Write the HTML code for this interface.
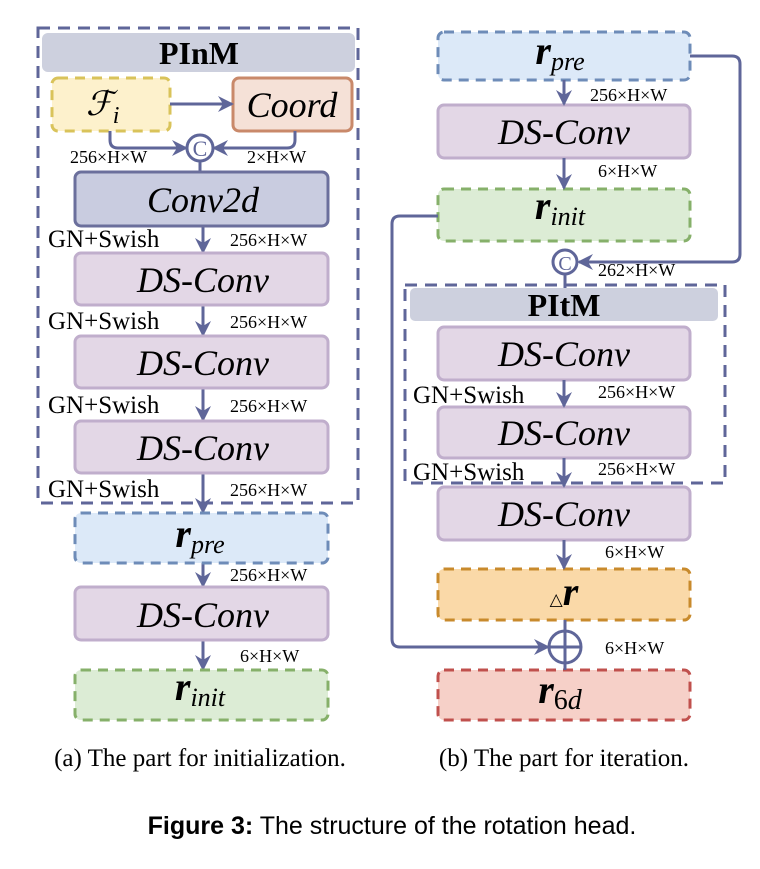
<!DOCTYPE html>
<html><head><meta charset="utf-8"><style>
body{margin:0;background:#fff;width:760px;height:864px;overflow:hidden}
svg text{font-family:"Liberation Serif","DejaVu Serif",serif}
</style></head><body>
<svg width="760" height="864" viewBox="0 0 760 864" xmlns="http://www.w3.org/2000/svg" font-family="Liberation Serif, serif">
<defs>
<marker id="b" markerWidth="16" markerHeight="16" refX="14" refY="8" orient="auto" markerUnits="userSpaceOnUse"><path d="M0,0 L16,8 L0,16 L5,8 z" fill="#5f6699"/></marker>
</defs>
<g stroke="#5f6699" stroke-width="3" fill="none">
<rect x="38" y="28" width="320" height="475" stroke-dasharray="12,8"/>
<rect x="405" y="285" width="320" height="198" stroke-dasharray="12,8"/>
</g>
<rect x="42" y="33" width="313" height="39" rx="6" fill="#cdd0de"/>
<text x="199" y="64" font-size="32" font-weight="bold" text-anchor="middle">PInM</text>
<rect x="410" y="288" width="308" height="33" rx="5" fill="#cdd0de"/>
<text x="564" y="316" font-size="32" font-weight="bold" text-anchor="middle">PItM</text>

<rect x="52" y="78" width="118" height="53" rx="6" fill="#fdf1cc" stroke="#d9c35a" stroke-width="3" stroke-dasharray="10,7"/>
<text x="86" y="115" font-size="34" font-style="italic">ℱ<tspan font-size="24" dy="8">i</tspan></text>
<rect x="233" y="78" width="119" height="53" rx="6" fill="#f5e1d7" stroke="#c9896a" stroke-width="3"/>
<text x="292" y="117" font-size="36" font-style="italic" text-anchor="middle">Coord</text>
<g stroke="#5f6699" stroke-width="3" fill="none">
<line x1="170" y1="104" x2="232" y2="104" marker-end="url(#b)"/>
<path d="M110,131 V140 Q110,148 118,148 H186" marker-end="url(#b)"/>
<path d="M295,131 V140 Q295,148 287,148 H214" marker-end="url(#b)"/>
<circle cx="200" cy="148" r="13" fill="#fff"/>
<line x1="200" y1="161" x2="200" y2="172"/>
<line x1="203" y1="226" x2="203" y2="252" marker-end="url(#b)"/>
<line x1="203" y1="305" x2="203" y2="335" marker-end="url(#b)"/>
<line x1="203" y1="388" x2="203" y2="420" marker-end="url(#b)"/>
<line x1="203" y1="473" x2="203" y2="512" marker-end="url(#b)"/>
<line x1="203" y1="563" x2="203" y2="586" marker-end="url(#b)"/>
<line x1="203" y1="640" x2="203" y2="669" marker-end="url(#b)"/>
</g>
<text x="200" y="156" font-size="22" text-anchor="middle" fill="#5f6699">C</text>
<text x="70" y="163" font-size="18">256×H×W</text>
<text x="247" y="163" font-size="18">2×H×W</text>
<rect x="75" y="172" width="253" height="54" rx="6" fill="#c9cce0" stroke="#6b6f9c" stroke-width="3"/>
<text x="203" y="212" font-size="36" font-style="italic" text-anchor="middle">Conv2d</text>
<g fill="#e3d7e6" stroke="#c0aecc" stroke-width="3">
<rect x="75" y="253" width="253" height="52" rx="6"/>
<rect x="75" y="336" width="253" height="52" rx="6"/>
<rect x="75" y="421" width="253" height="52" rx="6"/>
<rect x="75" y="587" width="253" height="53" rx="6"/>
<rect x="438" y="105" width="252" height="53" rx="6"/>
<rect x="438" y="327" width="252" height="53" rx="6"/>
<rect x="438" y="407" width="252" height="51" rx="6"/>
<rect x="438" y="487" width="252" height="53" rx="6"/>
</g>
<g text-anchor="middle" font-style="italic" font-size="36">
<text x="203" y="292">DS-Conv</text>
<text x="203" y="375">DS-Conv</text>
<text x="203" y="460">DS-Conv</text>
<text x="203" y="627">DS-Conv</text>
<text x="564" y="144">DS-Conv</text>
<text x="564" y="366">DS-Conv</text>
<text x="564" y="445">DS-Conv</text>
<text x="564" y="526">DS-Conv</text>
</g>
<g font-size="25">
<text x="48" y="247">GN+Swish</text>
<text x="48" y="329">GN+Swish</text>
<text x="48" y="413">GN+Swish</text>
<text x="48" y="497">GN+Swish</text>
<text x="413" y="403">GN+Swish</text>
<text x="413" y="480">GN+Swish</text>
</g>
<g font-size="18">
<text x="230" y="246">256×H×W</text>
<text x="230" y="328">256×H×W</text>
<text x="230" y="412">256×H×W</text>
<text x="230" y="496">256×H×W</text>
<text x="230" y="581">256×H×W</text>
<text x="240" y="662">6×H×W</text>
<text x="590" y="101">256×H×W</text>
<text x="598" y="177">6×H×W</text>
<text x="598" y="276">262×H×W</text>
<text x="598" y="398">256×H×W</text>
<text x="598" y="475">256×H×W</text>
<text x="605" y="558">6×H×W</text>
<text x="605" y="654">6×H×W</text>
</g>
<rect x="75" y="513" width="253" height="50" rx="6" fill="#dce9f8" stroke="#6e8cb8" stroke-width="3" stroke-dasharray="10,7"/>
<text x="200" y="547" font-size="40" font-style="italic" font-weight="bold" text-anchor="middle">r<tspan font-size="26" font-weight="normal" dy="6">pre</tspan></text>
<rect x="75" y="670" width="253" height="50" rx="6" fill="#dcecd5" stroke="#86b06a" stroke-width="3" stroke-dasharray="10,7"/>
<text x="200" y="700" font-size="40" font-style="italic" font-weight="bold" text-anchor="middle">r<tspan font-size="26" font-weight="normal" dy="6">init</tspan></text>

<rect x="438" y="32" width="252" height="48" rx="6" fill="#dce9f8" stroke="#6e8cb8" stroke-width="3" stroke-dasharray="10,7"/>
<text x="560" y="64" font-size="40" font-style="italic" font-weight="bold" text-anchor="middle">r<tspan font-size="26" font-weight="normal" dy="6">pre</tspan></text>
<rect x="438" y="189" width="252" height="52" rx="6" fill="#dcecd5" stroke="#86b06a" stroke-width="3" stroke-dasharray="10,7"/>
<text x="560" y="219" font-size="40" font-style="italic" font-weight="bold" text-anchor="middle">r<tspan font-size="26" font-weight="normal" dy="6">init</tspan></text>
<rect x="438" y="569" width="252" height="51" rx="6" fill="#fad9a8" stroke="#c88a2c" stroke-width="3" stroke-dasharray="10,7"/>
<text x="564" y="605" text-anchor="middle"><tspan font-size="17">△</tspan><tspan font-size="40" font-style="italic" font-weight="bold">r</tspan></text>
<rect x="438" y="670" width="252" height="50" rx="6" fill="#f6d0c8" stroke="#c0504d" stroke-width="3" stroke-dasharray="10,7"/>
<text x="560" y="703" font-size="40" font-style="italic" font-weight="bold" text-anchor="middle">r<tspan font-size="28" font-weight="normal" font-style="normal" dy="6">6<tspan font-style="italic">d</tspan></tspan></text>
<g stroke="#5f6699" stroke-width="3" fill="none">
<line x1="564" y1="80" x2="564" y2="104" marker-end="url(#b)"/>
<line x1="564" y1="158" x2="564" y2="188" marker-end="url(#b)"/>
<path d="M690,56 H732 Q740,56 740,64 V254 Q740,262 732,262 H579" marker-end="url(#b)"/>
<circle cx="565" cy="262" r="12" fill="#fff"/>
<line x1="565" y1="274" x2="565" y2="288"/>
<line x1="564" y1="380" x2="564" y2="406" marker-end="url(#b)"/>
<line x1="564" y1="458" x2="564" y2="486" marker-end="url(#b)"/>
<line x1="564" y1="540" x2="564" y2="568" marker-end="url(#b)"/>
<path d="M438,216 H400 Q392,216 392,224 V639 Q392,647 400,647 H548" marker-end="url(#b)"/>
<line x1="565" y1="620" x2="565" y2="670"/>
<circle cx="565" cy="647" r="16"/>
<line x1="549" y1="647" x2="581" y2="647"/>
</g>
<text x="565" y="270" font-size="20" text-anchor="middle" fill="#5f6699">C</text>

<text x="200" y="766" font-size="25" text-anchor="middle">(a) The part for initialization.</text>
<text x="564" y="766" font-size="25" text-anchor="middle">(b) The part for iteration.</text>
<text x="392" y="834" font-size="25" text-anchor="middle" style="font-family:'Liberation Sans',sans-serif"><tspan font-weight="bold">Figure 3:</tspan> The structure of the rotation head.</text>
</svg>
</body></html>
